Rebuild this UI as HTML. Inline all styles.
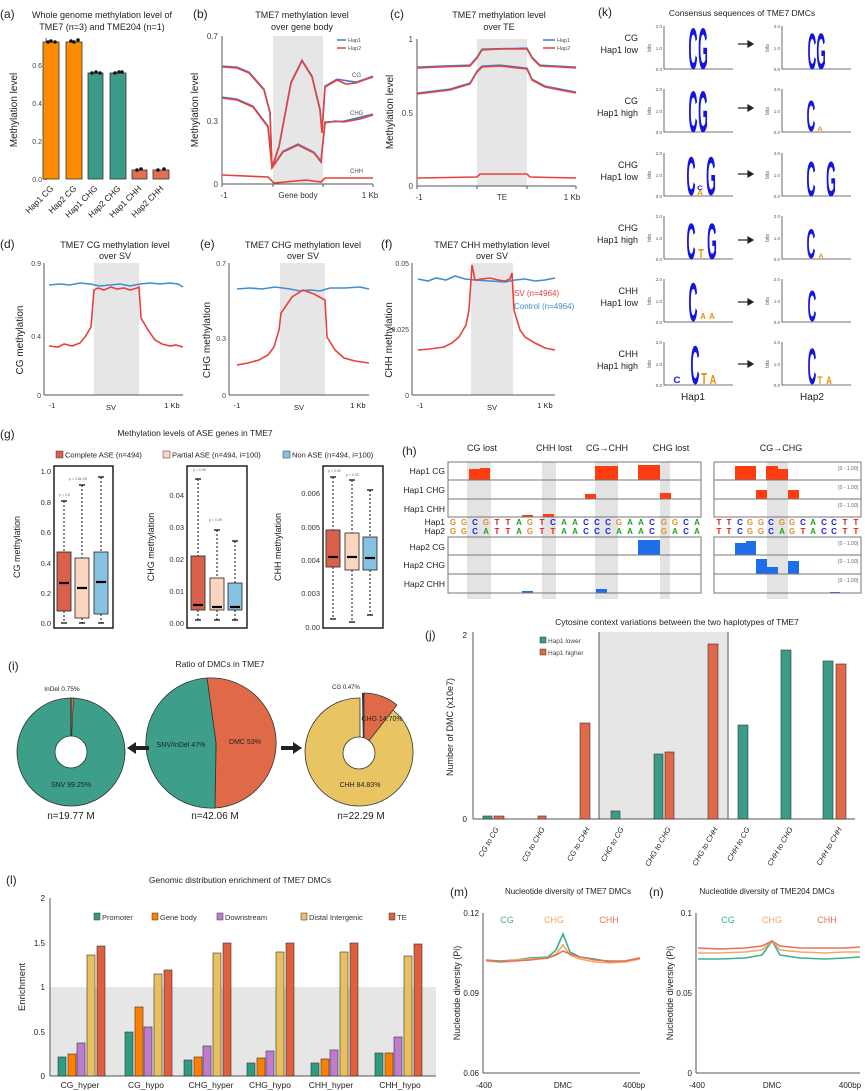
<!DOCTYPE html>
<html><head><meta charset="utf-8"><style>
html,body{margin:0;padding:0;background:#fff}
svg{display:block;font-family:"Liberation Sans",sans-serif}
</style></head><body>
<svg width="865" height="1091" viewBox="0 0 865 1091" xmlns="http://www.w3.org/2000/svg">
<g fill="#222">
<!-- ===== (a) ===== -->
<text x="0" y="18" font-size="12">(a)</text>
<text x="102" y="18" font-size="9" text-anchor="middle">Whole genome methylation level of</text>
<text x="102" y="30" font-size="9" text-anchor="middle">TME7 (n=3) and TME204 (n=1)</text>
<line x1="46" y1="38" x2="46" y2="180" stroke="#555" stroke-width="1"/>
<g font-size="7" text-anchor="end" fill="#444"><text x="42" y="182">0.0</text><text x="42" y="144">0.2</text><text x="42" y="106">0.4</text><text x="42" y="68">0.6</text></g>
<g stroke="#555"><line x1="43" y1="179" x2="46" y2="179"/><line x1="43" y1="141" x2="46" y2="141"/><line x1="43" y1="103" x2="46" y2="103"/><line x1="43" y1="65" x2="46" y2="65"/></g>
<text transform="translate(17,110) rotate(-90)" font-size="10" text-anchor="middle">Methylation level</text>
<g stroke="#333" stroke-width="0.8">
<rect x="43" y="42" width="16" height="137" fill="#FF8C00"/>
<rect x="66" y="42" width="16" height="137" fill="#FF8C00"/>
<rect x="88" y="73" width="15" height="106" fill="#3A9C88"/>
<rect x="110" y="73" width="16" height="106" fill="#3A9C88"/>
<rect x="132" y="170" width="15" height="9" fill="#E07050"/>
<rect x="153" y="170" width="16" height="9" fill="#E07050"/>
</g>
<g fill="#111"><circle cx="48" cy="42" r="1.8"/><circle cx="51" cy="41" r="1.8"/><circle cx="55" cy="42" r="1.8"/><circle cx="71" cy="41" r="1.8"/><circle cx="74" cy="42" r="1.8"/><circle cx="78" cy="40" r="1.8"/><circle cx="92" cy="73" r="1.8"/><circle cx="96" cy="72" r="1.8"/><circle cx="100" cy="73" r="1.8"/><circle cx="115" cy="73" r="1.8"/><circle cx="119" cy="72" r="1.8"/><circle cx="122" cy="72" r="1.8"/><circle cx="137" cy="170" r="1.8"/><circle cx="141" cy="169" r="1.8"/><circle cx="158" cy="170" r="1.8"/><circle cx="164" cy="169" r="1.8"/></g>
<g font-size="8.5" text-anchor="end">
<text transform="translate(54,189) rotate(-45)">Hap1 CG</text>
<text transform="translate(77,189) rotate(-45)">Hap2 CG</text>
<text transform="translate(98,189) rotate(-45)">Hap1 CHG</text>
<text transform="translate(121,189) rotate(-45)">Hap2 CHG</text>
<text transform="translate(142,189) rotate(-45)">Hap1 CHH</text>
<text transform="translate(164,189) rotate(-45)">Hap2 CHH</text>
</g>

<!-- ===== (b) ===== -->
<text x="193" y="18" font-size="12">(b)</text>
<text x="302" y="18" font-size="9" text-anchor="middle">TME7 methylation level</text>
<text x="302" y="30" font-size="9" text-anchor="middle">over gene body</text>
<rect x="273" y="36" width="50" height="148" fill="#E6E6E6"/>
<line x1="222" y1="36" x2="222" y2="184" stroke="#555"/><line x1="222" y1="184" x2="373" y2="184" stroke="#555"/>
<g stroke="#555"><line x1="273" y1="184" x2="273" y2="187"/><line x1="323" y1="184" x2="323" y2="187"/><line x1="373" y1="184" x2="373" y2="187"/><line x1="222" y1="184" x2="222" y2="187"/></g>
<g font-size="8" text-anchor="end" fill="#444"><text x="218" y="39">0.7</text><text x="218" y="124">0.3</text><text x="218" y="187">0</text></g>
<g font-size="8" text-anchor="middle" fill="#333"><text x="224" y="198">-1</text><text x="298" y="198">Gene body</text><text x="370" y="198">1 Kb</text></g>
<text transform="translate(198,110) rotate(-90)" font-size="10" text-anchor="middle">Methylation level</text>
<g fill="none" stroke="#3C7FC8" stroke-width="1.6" transform="translate(0,-0.8)">
<polyline points="222,67 237,68 249,73 264,90 270,113 272,168 279,147 291,83 302,61 312,77 320,110 322,133 325,87 337,80 356,83 373,77"/>
<polyline points="222,98 237,100 253,107 268,127 272,168 283,152 298,145 314,153 321,162 325,123 344,122 373,115"/>
</g>
<g fill="none" stroke="#E8413C" stroke-width="1.6">
<polyline points="222,67 237,68 249,73 264,90 270,113 272,168 279,147 291,83 302,61 312,77 320,110 322,133 325,87 337,80 346,84 356,83 364,80 373,77"/>
<polyline points="222,98 237,100 253,107 268,127 272,168 283,152 298,145 314,153 321,162 325,123 335,121 344,122 360,119 373,115"/>
<polyline points="222,175 268,177 274,183 306,180 321,182 325,178 373,178"/>
</g>
<g font-size="6" fill="#555"><text x="352" y="77">CG</text><text x="350" y="115">CHG</text><text x="350" y="173">CHH</text></g>
<line x1="337" y1="40" x2="346" y2="40" stroke="#3C7FC8" stroke-width="1.5"/><line x1="337" y1="48" x2="346" y2="48" stroke="#E8413C" stroke-width="1.5"/>
<g font-size="5.5" fill="#555"><text x="348" y="42">Hap1</text><text x="348" y="50">Hap2</text></g>

<!-- ===== (c) ===== -->
<text x="390" y="18" font-size="12">(c)</text>
<text x="499" y="18" font-size="9" text-anchor="middle">TME7 methylation level</text>
<text x="499" y="30" font-size="9" text-anchor="middle">over TE</text>
<rect x="477" y="39" width="50" height="147" fill="#E6E6E6"/>
<line x1="417" y1="39" x2="417" y2="186" stroke="#555"/><line x1="417" y1="186" x2="576" y2="186" stroke="#555"/>
<g stroke="#555"><line x1="477" y1="186" x2="477" y2="189"/><line x1="527" y1="186" x2="527" y2="189"/><line x1="576" y1="186" x2="576" y2="189"/><line x1="417" y1="186" x2="417" y2="189"/></g>
<g font-size="8" text-anchor="end" fill="#444"><text x="413" y="42">1</text><text x="413" y="116">0.5</text><text x="413" y="189">0</text></g>
<g font-size="8" text-anchor="middle" fill="#333"><text x="419" y="200">-1</text><text x="502" y="200">TE</text><text x="572" y="200">1 Kb</text></g>
<text transform="translate(393,112) rotate(-90)" font-size="10" text-anchor="middle">Methylation level</text>
<g fill="none" stroke="#3C7FC8" stroke-width="1.6" transform="translate(0,-0.8)">
<polyline points="417,68 440,67 470,66 477,58 482,50 527,49 532,58 540,66 576,68"/>
<polyline points="417,94 450,90 470,84 477,72 482,67 500,66 527,69 532,80 545,87 576,93"/>
</g>
<g fill="none" stroke="#E8413C" stroke-width="1.6">
<polyline points="417,68 440,67 470,66 477,58 482,50 500,49 527,49 532,58 540,66 560,67 576,68"/>
<polyline points="417,94 450,90 470,84 477,72 482,67 500,66 527,69 532,80 545,87 560,90 576,93"/>
<polyline points="417,178 477,177 480,174 527,174 530,177 576,178"/>
</g>
<line x1="543" y1="40" x2="555" y2="40" stroke="#3C7FC8" stroke-width="1.5"/><line x1="543" y1="48" x2="555" y2="48" stroke="#E8413C" stroke-width="1.5"/>
<g font-size="5.5" fill="#555"><text x="557" y="42">Hap1</text><text x="557" y="50">Hap2</text></g>

<!-- ===== (d) ===== -->
<text x="0" y="248" font-size="12">(d)</text>
<text x="115" y="248" font-size="9" text-anchor="middle">TME7 CG methylation level</text>
<text x="115" y="259" font-size="9" text-anchor="middle">over SV</text>
<rect x="94" y="263" width="45" height="132" fill="#E6E6E6"/>
<line x1="44" y1="263" x2="44" y2="395" stroke="#555"/><line x1="44" y1="395" x2="183" y2="395" stroke="#555"/>
<g font-size="7" text-anchor="end" fill="#444"><text x="41" y="266">0.9</text><text x="41" y="339">0.4</text><text x="41" y="398">0</text></g>
<g font-size="7.5" text-anchor="middle"><text x="52" y="408">-1</text><text x="111" y="410">SV</text><text x="172" y="408">1 Kb</text></g>
<text transform="translate(23,340) rotate(-90)" font-size="10" text-anchor="middle">CG methylation</text>
<polyline fill="none" stroke="#3C8FD0" stroke-width="1.6" points="49,285 60,284 70,285 80,283 90,284 100,286 110,285 120,284 130,286 140,284 150,283 160,284 170,283 178,284 183,287"/>
<polyline fill="none" stroke="#E8413C" stroke-width="1.6" points="49,346 58,347 64,344 72,346 80,343 85,337 91,327 94,290 98,288 104,290 111,287 117,289 124,288 130,290 137,288 139,287 141,318 148,330 155,340 162,344 170,346 176,345 183,347"/>

<!-- ===== (e) ===== -->
<text x="200" y="248" font-size="12">(e)</text>
<text x="303" y="248" font-size="9" text-anchor="middle">TME7 CHG methylation level</text>
<text x="303" y="259" font-size="9" text-anchor="middle">over SV</text>
<rect x="280" y="263" width="45" height="132" fill="#E6E6E6"/>
<line x1="229" y1="263" x2="229" y2="395" stroke="#555"/><line x1="229" y1="395" x2="369" y2="395" stroke="#555"/>
<g font-size="7" text-anchor="end" fill="#444"><text x="226" y="266">0.7</text><text x="226" y="341">0.3</text><text x="226" y="398">0</text></g>
<g font-size="7.5" text-anchor="middle"><text x="237" y="408">-1</text><text x="299" y="410">SV</text><text x="358" y="408">1 Kb</text></g>
<text transform="translate(210,340) rotate(-90)" font-size="10" text-anchor="middle">CHG methylation</text>
<polyline fill="none" stroke="#3C8FD0" stroke-width="1.6" points="237,289 250,288 262,289 275,287 290,289 300,291 310,290 320,291 330,288 345,288 360,287 369,289"/>
<polyline fill="none" stroke="#E8413C" stroke-width="1.6" points="237,365 248,363 259,360 268,355 274,347 279,330 281,313 292,297 303,290 314,294 325,300 327,337 335,350 344,358 355,361 369,363"/>

<!-- ===== (f) ===== -->
<text x="381" y="248" font-size="12">(f)</text>
<text x="492" y="248" font-size="9" text-anchor="middle">TME7 CHH methylation level</text>
<text x="492" y="259" font-size="9" text-anchor="middle">over SV</text>
<rect x="471" y="263" width="42" height="132" fill="#E6E6E6"/>
<line x1="412" y1="263" x2="412" y2="395" stroke="#555"/><line x1="412" y1="395" x2="555" y2="395" stroke="#555"/>
<g font-size="7" text-anchor="end" fill="#444"><text x="409" y="266">0.05</text><text x="409" y="332">0.025</text><text x="409" y="398">0</text></g>
<g font-size="7.5" text-anchor="middle"><text x="420" y="408">-1</text><text x="492" y="410">SV</text><text x="545" y="408">1 Kb</text></g>
<text transform="translate(392,340) rotate(-90)" font-size="10" text-anchor="middle">CHH methylation</text>
<polyline fill="none" stroke="#3C8FD0" stroke-width="1.6" points="418,279 428,281 436,278 446,280 455,276 465,279 475,280 490,281 505,282 515,280 525,279 535,281 545,280 555,278"/>
<polyline fill="none" stroke="#E8413C" stroke-width="1.6" points="418,350 430,349 444,347 452,343 459,337 466,325 469,310 472,265 475,280 482,279 490,278 498,280 505,281 510,279 512,273 514,310 520,330 525,337 535,343 545,348 555,350"/>
<text x="514" y="296" font-size="8" fill="#E8413C">SV (n=4964)</text>
<text x="514" y="309" font-size="8" fill="#3C8FD0">Control (n=4964)</text>

<!-- ===== (g) ===== -->
<text x="0" y="438" font-size="12">(g)</text>
<text x="195" y="436" font-size="8.5" text-anchor="middle">Methylation levels of ASE genes in TME7</text>
<rect x="56" y="451" width="7" height="7" fill="#D9614B" stroke="#333" stroke-width="0.5"/>
<text x="65" y="457.5" font-size="7.5">Complete ASE (n=494)</text>
<rect x="163" y="451" width="7" height="7" fill="#FAD5BF" stroke="#333" stroke-width="0.5"/>
<text x="172" y="457.5" font-size="7.5">Partial ASE (n=494, i=100)</text>
<rect x="283" y="451" width="7" height="7" fill="#86C3E0" stroke="#333" stroke-width="0.5"/>
<text x="292" y="457.5" font-size="7.5">Non ASE (n=494, i=100)</text>

<g fill="none" stroke="#111" stroke-width="1.4"><rect x="54" y="466" width="59" height="162"/><rect x="187" y="466" width="60" height="162"/><rect x="323" y="466" width="60" height="162"/></g>
<g font-size="7.5" text-anchor="end" fill="#333">
<text x="51" y="474">1.0</text><text x="51" y="505">0.8</text><text x="51" y="535">0.6</text><text x="51" y="566">0.4</text><text x="51" y="596">0.2</text><text x="51" y="626">0.0</text>
<text x="184" y="498">0.04</text><text x="184" y="530">0.03</text><text x="184" y="562">0.02</text><text x="184" y="594">0.01</text><text x="184" y="626">0.00</text>
<text x="320" y="496">0.006</text><text x="320" y="530">0.005</text><text x="320" y="563">0.004</text><text x="320" y="596">0.003</text><text x="320" y="630">0.00</text>
</g>
<text transform="translate(20,547) rotate(-90)" font-size="9" text-anchor="middle">CG methylation</text>
<text transform="translate(154,547) rotate(-90)" font-size="9" text-anchor="middle">CHG methylation</text>
<text transform="translate(281,547) rotate(-90)" font-size="9" text-anchor="middle">CHH methylation</text>
<g stroke="#111" stroke-width="1" stroke-dasharray="2,2" fill="none">
<line x1="64" y1="501" x2="64" y2="552"/><line x1="64" y1="611" x2="64" y2="623"/>
<line x1="82" y1="485" x2="82" y2="558"/><line x1="82" y1="618" x2="82" y2="623"/>
<line x1="101" y1="477" x2="101" y2="552"/><line x1="101" y1="614" x2="101" y2="623"/>
<line x1="198" y1="479" x2="198" y2="556"/><line x1="198" y1="610" x2="198" y2="620"/>
<line x1="217" y1="530" x2="217" y2="578"/><line x1="217" y1="610" x2="217" y2="620"/>
<line x1="235" y1="541" x2="235" y2="583"/><line x1="235" y1="610" x2="235" y2="620"/>
<line x1="333" y1="477" x2="333" y2="530"/><line x1="333" y1="567" x2="333" y2="619"/>
<line x1="352" y1="480" x2="352" y2="533"/><line x1="352" y1="570" x2="352" y2="622"/>
<line x1="370" y1="490" x2="370" y2="537"/><line x1="370" y1="570" x2="370" y2="615"/>
</g>
<g stroke="#111" stroke-width="1.3">
<line x1="61" y1="501" x2="67" y2="501"/><line x1="61" y1="623" x2="67" y2="623"/>
<line x1="79" y1="485" x2="85" y2="485"/><line x1="79" y1="623" x2="85" y2="623"/>
<line x1="98" y1="477" x2="104" y2="477"/><line x1="98" y1="623" x2="104" y2="623"/>
<line x1="195" y1="479" x2="201" y2="479"/><line x1="195" y1="620" x2="201" y2="620"/>
<line x1="214" y1="530" x2="220" y2="530"/><line x1="214" y1="620" x2="220" y2="620"/>
<line x1="232" y1="541" x2="238" y2="541"/><line x1="232" y1="620" x2="238" y2="620"/>
<line x1="330" y1="477" x2="336" y2="477"/><line x1="330" y1="619" x2="336" y2="619"/>
<line x1="349" y1="480" x2="355" y2="480"/><line x1="349" y1="622" x2="355" y2="622"/>
<line x1="367" y1="490" x2="373" y2="490"/><line x1="367" y1="615" x2="373" y2="615"/>
</g>
<g stroke="#222" stroke-width="0.8">
<rect x="57" y="552" width="14" height="59" fill="#D9614B"/>
<rect x="75" y="558" width="14" height="60" fill="#FAD5BF"/>
<rect x="94" y="552" width="14" height="62" fill="#86C3E0"/>
<rect x="191" y="556" width="14" height="54" fill="#D9614B"/>
<rect x="210" y="578" width="14" height="32" fill="#FAD5BF"/>
<rect x="228" y="583" width="14" height="27" fill="#86C3E0"/>
<rect x="326" y="530" width="14" height="37" fill="#D9614B"/>
<rect x="345" y="533" width="14" height="37" fill="#FAD5BF"/>
<rect x="363" y="537" width="14" height="33" fill="#86C3E0"/>
</g>
<g stroke="#000" stroke-width="2.2">
<line x1="59" y1="583" x2="69" y2="583"/><line x1="77" y1="588" x2="87" y2="588"/><line x1="96" y1="582" x2="106" y2="582"/>
<line x1="193" y1="605" x2="203" y2="605"/><line x1="212" y1="607" x2="222" y2="607"/><line x1="230" y1="607" x2="240" y2="607"/>
<line x1="328" y1="557" x2="338" y2="557"/><line x1="347" y1="557" x2="357" y2="557"/><line x1="365" y1="558" x2="375" y2="558"/>
</g>
<g font-size="3.5" fill="#666"><text x="59" y="496">p = 0.8</text><text x="69" y="480">p = 3.8e-08</text><text x="193" y="471">p = 0.05</text><text x="209" y="521">p = 0.09</text><text x="328" y="472">p = 0.09</text><text x="346" y="476">p = 0.02</text></g>

<!-- ===== (h) ===== -->
<text x="402" y="455" font-size="12">(h)</text>
<g fill="#E3E3E3"><rect x="467" y="462" width="24" height="137"/><rect x="542" y="462" width="14" height="137"/><rect x="595" y="462" width="23" height="137"/><rect x="660" y="462" width="10" height="137"/><rect x="767" y="462" width="21" height="137"/></g>
<g font-size="9" text-anchor="middle"><text x="482" y="451">CG lost</text><text x="554" y="451">CHH lost</text><text x="607" y="451">CG→CHH</text><text x="671" y="451">CHG lost</text><text x="781" y="451">CG→CHG</text></g>
<g font-size="8.5" text-anchor="end">
<text x="445" y="474">Hap1 CG</text><text x="445" y="493">Hap1 CHG</text><text x="445" y="512">Hap1 CHH</text>
<text x="445" y="525">Hap1</text><text x="445" y="534">Hap2</text>
<text x="445" y="550">Hap2 CG</text><text x="445" y="568">Hap2 CHG</text><text x="445" y="587">Hap2 CHH</text>
</g>
<g fill="#FF3B10">
<rect x="469" y="469" width="11" height="11"/><rect x="480" y="468" width="10" height="12"/><rect x="595" y="466" width="23" height="14"/><rect x="638" y="465" width="22" height="15"/>
<rect x="585" y="494" width="11" height="5"/><rect x="660" y="493" width="11" height="6"/>
<rect x="522" y="515" width="11" height="2"/><rect x="543" y="514" width="11" height="3"/>
<rect x="735" y="466" width="21" height="14"/><rect x="766" y="466" width="12" height="14"/><rect x="778" y="469" width="10" height="11"/>
<rect x="756" y="490" width="11" height="9"/><rect x="788" y="490" width="11" height="9"/>
</g>
<g fill="#1E6EEB">
<rect x="638" y="540" width="22" height="15"/><rect x="522" y="591" width="11" height="2"/><rect x="596" y="589" width="11" height="4"/>
<rect x="735" y="543" width="11" height="12"/><rect x="746" y="541" width="10" height="14"/>
<rect x="756" y="559" width="11" height="15"/><rect x="767" y="567" width="11" height="7"/><rect x="788" y="561" width="11" height="13"/>
<rect x="830" y="592" width="10" height="1"/>
</g>
<g fill="none" stroke="#777" stroke-width="1">
<rect x="448" y="462" width="253" height="55"/><line x1="448" y1="480" x2="701" y2="480"/><line x1="448" y1="499" x2="701" y2="499"/>
<rect x="448" y="537" width="253" height="56"/><line x1="448" y1="555" x2="701" y2="555"/><line x1="448" y1="574" x2="701" y2="574"/>
<rect x="714" y="462" width="147" height="55"/><line x1="714" y1="480" x2="861" y2="480"/><line x1="714" y1="499" x2="861" y2="499"/>
<rect x="714" y="537" width="147" height="56"/><line x1="714" y1="555" x2="861" y2="555"/><line x1="714" y1="574" x2="861" y2="574"/>
</g>
<g font-size="5" fill="#666" text-anchor="end"><text x="858" y="470">[0 - 1.00]</text><text x="858" y="489">[0 - 1.00]</text><text x="858" y="507">[0 - 1.00]</text><text x="858" y="545">[0 - 1.00]</text><text x="858" y="563">[0 - 1.00]</text><text x="858" y="582">[0 - 1.00]</text></g>
<g font-size="8" font-weight="bold" text-anchor="middle">
<text y="525"><tspan x="453" fill="#E09030">G</tspan><tspan x="464" fill="#E09030">G</tspan><tspan x="475" fill="#2020E0">C</tspan><tspan x="486" fill="#E09030">G</tspan><tspan x="497" fill="#E02020">T</tspan><tspan x="508" fill="#E02020">T</tspan><tspan x="519" fill="#20A020">A</tspan><tspan x="530" fill="#E09030">G</tspan><tspan x="542" fill="#E02020">T</tspan><tspan x="553" fill="#2020E0">C</tspan><tspan x="564" fill="#20A020">A</tspan><tspan x="575" fill="#20A020">A</tspan><tspan x="586" fill="#2020E0">C</tspan><tspan x="597" fill="#2020E0">C</tspan><tspan x="608" fill="#2020E0">C</tspan><tspan x="619" fill="#E09030">G</tspan><tspan x="630" fill="#20A020">A</tspan><tspan x="641" fill="#20A020">A</tspan><tspan x="652" fill="#2020E0">C</tspan><tspan x="664" fill="#E09030">G</tspan><tspan x="675" fill="#E09030">G</tspan><tspan x="686" fill="#2020E0">C</tspan><tspan x="697" fill="#20A020">A</tspan></text>
<text y="534"><tspan x="453" fill="#E09030">G</tspan><tspan x="464" fill="#E09030">G</tspan><tspan x="475" fill="#2020E0">C</tspan><tspan x="486" fill="#20A020">A</tspan><tspan x="497" fill="#E02020">T</tspan><tspan x="508" fill="#E02020">T</tspan><tspan x="519" fill="#20A020">A</tspan><tspan x="530" fill="#E09030">G</tspan><tspan x="542" fill="#E02020">T</tspan><tspan x="553" fill="#E02020">T</tspan><tspan x="564" fill="#20A020">A</tspan><tspan x="575" fill="#20A020">A</tspan><tspan x="586" fill="#2020E0">C</tspan><tspan x="597" fill="#2020E0">C</tspan><tspan x="608" fill="#2020E0">C</tspan><tspan x="619" fill="#20A020">A</tspan><tspan x="630" fill="#20A020">A</tspan><tspan x="641" fill="#20A020">A</tspan><tspan x="652" fill="#2020E0">C</tspan><tspan x="664" fill="#E09030">G</tspan><tspan x="675" fill="#20A020">A</tspan><tspan x="686" fill="#2020E0">C</tspan><tspan x="697" fill="#20A020">A</tspan></text>
<text y="525"><tspan x="719" fill="#E02020">T</tspan><tspan x="729" fill="#E02020">T</tspan><tspan x="740" fill="#2020E0">C</tspan><tspan x="750" fill="#E09030">G</tspan><tspan x="761" fill="#E09030">G</tspan><tspan x="771" fill="#2020E0">C</tspan><tspan x="782" fill="#E09030">G</tspan><tspan x="792" fill="#E09030">G</tspan><tspan x="803" fill="#2020E0">C</tspan><tspan x="813" fill="#20A020">A</tspan><tspan x="824" fill="#2020E0">C</tspan><tspan x="834" fill="#2020E0">C</tspan><tspan x="845" fill="#E02020">T</tspan><tspan x="856" fill="#E02020">T</tspan></text>
<text y="534"><tspan x="719" fill="#E02020">T</tspan><tspan x="729" fill="#E02020">T</tspan><tspan x="740" fill="#2020E0">C</tspan><tspan x="750" fill="#E09030">G</tspan><tspan x="761" fill="#E09030">G</tspan><tspan x="771" fill="#2020E0">C</tspan><tspan x="782" fill="#20A020">A</tspan><tspan x="792" fill="#E09030">G</tspan><tspan x="803" fill="#E02020">T</tspan><tspan x="813" fill="#20A020">A</tspan><tspan x="824" fill="#2020E0">C</tspan><tspan x="834" fill="#2020E0">C</tspan><tspan x="845" fill="#E02020">T</tspan><tspan x="856" fill="#E02020">T</tspan></text>
</g>

<!-- ===== (k) ===== -->
<text x="598" y="16" font-size="12">(k)</text>
<text x="742" y="16" font-size="8.5" text-anchor="middle">Consensus sequences of TME7 DMCs</text>
<g font-size="9" text-anchor="end">
<text x="638" y="41">CG</text><text x="638" y="53">Hap1 low</text>
<text x="638" y="104">CG</text><text x="638" y="116">Hap1 high</text>
<text x="638" y="168">CHG</text><text x="638" y="180">Hap1 low</text>
<text x="638" y="231">CHG</text><text x="638" y="243">Hap1 high</text>
<text x="638" y="294">CHH</text><text x="638" y="306">Hap1 low</text>
<text x="638" y="357">CHH</text><text x="638" y="369">Hap1 high</text>
</g>
<g stroke="#444" stroke-width="0.8" fill="none">
<path d="M664,26V69H733M782,26V69H851"/><path d="M664,89V132H733M782,89V132H851"/><path d="M664,153V196H733M782,153V196H851"/>
<path d="M664,216V259H733M782,216V259H851"/><path d="M664,279V322H733M782,279V322H851"/><path d="M664,342V385H733M782,342V385H851"/>
</g>
<g font-size="4.5" fill="#555" text-anchor="end">
<text x="662" y="28">2.0</text><text x="662" y="50">1.0</text><text x="662" y="71">0.0</text><text x="780" y="28">2.0</text><text x="780" y="50">1.0</text><text x="780" y="71">0.0</text>
<text x="662" y="91">2.0</text><text x="662" y="113">1.0</text><text x="662" y="134">0.0</text><text x="780" y="91">2.0</text><text x="780" y="113">1.0</text><text x="780" y="134">0.0</text>
<text x="662" y="155">2.0</text><text x="662" y="177">1.0</text><text x="662" y="198">0.0</text><text x="780" y="155">2.0</text><text x="780" y="177">1.0</text><text x="780" y="198">0.0</text>
<text x="662" y="218">2.0</text><text x="662" y="240">1.0</text><text x="662" y="261">0.0</text><text x="780" y="218">2.0</text><text x="780" y="240">1.0</text><text x="780" y="261">0.0</text>
<text x="662" y="281">2.0</text><text x="662" y="303">1.0</text><text x="662" y="324">0.0</text><text x="780" y="281">2.0</text><text x="780" y="303">1.0</text><text x="780" y="324">0.0</text>
<text x="662" y="344">2.0</text><text x="662" y="366">1.0</text><text x="662" y="387">0.0</text><text x="780" y="344">2.0</text><text x="780" y="366">1.0</text><text x="780" y="387">0.0</text>
</g>
<g font-size="5" fill="#555" text-anchor="middle">
<text transform="translate(651,48) rotate(-90)">bits</text><text transform="translate(769,48) rotate(-90)">bits</text>
<text transform="translate(651,111) rotate(-90)">bits</text><text transform="translate(769,111) rotate(-90)">bits</text>
<text transform="translate(651,175) rotate(-90)">bits</text><text transform="translate(769,175) rotate(-90)">bits</text>
<text transform="translate(651,238) rotate(-90)">bits</text><text transform="translate(769,238) rotate(-90)">bits</text>
<text transform="translate(651,301) rotate(-90)">bits</text><text transform="translate(769,301) rotate(-90)">bits</text>
<text transform="translate(651,364) rotate(-90)">bits</text><text transform="translate(769,364) rotate(-90)">bits</text>
</g>
<g font-size="10" font-weight="bold" text-anchor="middle" fill="#1515E0">
<text transform="translate(693,69) scale(1.25,5.8)">C</text><text transform="translate(703,69) scale(1.25,5.8)">G</text>
<text transform="translate(812,69) scale(1.2,5.1)">C</text><text transform="translate(821,69) scale(1.2,5.1)">G</text>
<text transform="translate(693,132) scale(1.25,5.8)">C</text><text transform="translate(703,132) scale(1.25,5.8)">G</text>
<text transform="translate(811,131) scale(1.2,4.4)">C</text>
<text transform="translate(691,195) scale(1.25,5.5)">C</text><text transform="translate(711,195) scale(1.25,5.5)">G</text>
<text transform="translate(811,196) scale(1.25,4.9)">C</text><text transform="translate(831,196) scale(1.25,4.9)">G</text>
<text transform="translate(691,259) scale(1.25,5.1)">C</text><text transform="translate(712,259) scale(1.25,5.1)">G</text>
<text transform="translate(811,258) scale(1.2,4.2)">C</text>
<text transform="translate(693,321) scale(1.25,5.5)">C</text>
<text transform="translate(812,321) scale(1.2,4.4)">C</text>
<text transform="translate(695,384) scale(1.25,5.5)">C</text>
<text transform="translate(812,384) scale(1.2,5.1)">C</text>
<text transform="translate(677,383) scale(1,0.9)">C</text>
<text transform="translate(700,190) scale(0.8,0.6)">C</text>
</g>
<g font-size="10" font-weight="bold" text-anchor="middle" fill="#F08C00">
<text transform="translate(820,131) scale(0.7,0.6)">A</text>
<text transform="translate(700,195) scale(0.8,0.7)">A</text>
<text transform="translate(701,258) scale(0.9,1.3)">T</text>
<text transform="translate(821,258) scale(0.7,0.6)">A</text>
<text transform="translate(703,319) scale(0.8,0.8)">A</text><text transform="translate(712,319) scale(0.8,0.8)">A</text>
<text transform="translate(704,384) scale(1,1.6)">T</text><text transform="translate(713,384) scale(0.9,1.3)">A</text>
<text transform="translate(820,384) scale(0.8,1.1)">T</text><text transform="translate(829,384) scale(0.8,1.1)">A</text>
</g>
<g stroke="#222" stroke-width="1.2" fill="#222">
<line x1="738" y1="44" x2="749" y2="44"/><path d="M748,41L753,44L748,47Z"/>
<line x1="738" y1="108" x2="749" y2="108"/><path d="M748,105L753,108L748,111Z"/>
<line x1="738" y1="174" x2="749" y2="174"/><path d="M748,171L753,174L748,177Z"/>
<line x1="738" y1="240" x2="749" y2="240"/><path d="M748,237L753,240L748,243Z"/>
<line x1="738" y1="302" x2="749" y2="302"/><path d="M748,299L753,302L748,305Z"/>
<line x1="738" y1="364" x2="749" y2="364"/><path d="M748,361L753,364L748,367Z"/>
</g>
<text x="693" y="400" font-size="10" text-anchor="middle">Hap1</text>
<text x="812" y="400" font-size="10" text-anchor="middle">Hap2</text>

<!-- ===== (i) ===== -->
<text x="8" y="670" font-size="12">(i)</text>
<text x="220" y="667" font-size="8.5" text-anchor="middle">Ratio of DMCs in TME7</text>
<circle cx="71" cy="752" r="54" fill="#3D9F8A" stroke="#333" stroke-width="0.8"/>
<path d="M71,752 L71,698 A54,54 0 0 1 73.5,698.1 Z" fill="#E06A48" stroke="#333" stroke-width="0.6"/>
<line x1="71" y1="752" x2="71" y2="698" stroke="#222" stroke-width="1"/>
<circle cx="71" cy="752" r="16" fill="#fff" stroke="#333" stroke-width="0.8"/>
<text x="62" y="691" font-size="6.5" text-anchor="middle">InDel 0.75%</text>
<text x="71" y="787" font-size="7" text-anchor="middle">SNV 99.25%</text>
<path d="M216,743 L207,678 A65,65 0 0 1 215,808 Z" fill="#E06A48" stroke="#333" stroke-width="0.8"/>
<path d="M216,743 L215,808 A65,65 0 0 1 207,678 Z" fill="#3D9F8A" stroke="#333" stroke-width="0.8"/>
<text x="181" y="747" font-size="7" text-anchor="middle">SNV/InDel 47%</text>
<text x="245" y="744" font-size="7" text-anchor="middle">DMC 53%</text>
<path d="M360,752 L360,698 A54,54 0 1 0 393,710 Z" fill="#E8C463" stroke="#333" stroke-width="0.8"/>
<path d="M364,747 L364,693 A54,54 0 0 1 397,705 Z" fill="#E06A48" stroke="#333" stroke-width="0.8"/>
<path d="M363,747 L362,693 L364,693 L364,747Z" fill="#333"/>
<circle cx="359" cy="753" r="16" fill="#fff" stroke="#333" stroke-width="0.8"/>
<text x="346" y="689" font-size="6" text-anchor="middle">CG 0.47%</text>
<text x="382" y="721" font-size="7" text-anchor="middle">CHG 14.70%</text>
<text x="360" y="787" font-size="7" text-anchor="middle">CHH 84.83%</text>
<g fill="#222"><path d="M127,748 L136,742 L136,746 L149,746 L149,750 L136,750 L136,754Z"/><path d="M302,748 L293,742 L293,746 L281,746 L281,750 L293,750 L293,754Z"/></g>
<g font-size="10" text-anchor="middle"><text x="71" y="819">n=19.77 M</text><text x="215" y="819">n=42.06 M</text><text x="361" y="819">n=22.29 M</text></g>

<!-- ===== (j) ===== -->
<text x="425" y="639" font-size="12">(j)</text>
<text x="677" y="625" font-size="8.5" text-anchor="middle">Cytosine context variations between the two haplotypes of TME7</text>
<rect x="599" y="632" width="129" height="187" fill="#E6E6E6"/>
<line x1="599" y1="632" x2="599" y2="819" stroke="#555"/><line x1="728" y1="632" x2="728" y2="819" stroke="#555"/>
<line x1="473" y1="632" x2="473" y2="819" stroke="#555"/><line x1="473" y1="819" x2="855" y2="819" stroke="#555"/>
<text x="467" y="638" font-size="8" text-anchor="end">2</text><text x="467" y="822" font-size="8" text-anchor="end">0</text>
<text transform="translate(453,727) rotate(-90)" font-size="9" text-anchor="middle">Number of DMC (x10e7)</text>
<rect x="540" y="637" width="6" height="6" fill="#3A9C88" stroke="#333" stroke-width="0.5"/><text x="548" y="643" font-size="6.5" fill="#444">Hap1 lower</text>
<rect x="540" y="649" width="6" height="6" fill="#E0694A" stroke="#333" stroke-width="0.5"/><text x="548" y="655" font-size="6.5" fill="#444">Hap1 higher</text>
<g stroke="#333" stroke-width="0.6">
<rect x="483" y="816" width="9" height="3" fill="#3A9C88"/><rect x="494" y="816" width="10" height="3" fill="#E0694A"/>
<rect x="538" y="816" width="8" height="3" fill="#E0694A"/>
<rect x="580" y="723" width="10" height="96" fill="#E0694A"/>
<rect x="611" y="811" width="9" height="8" fill="#3A9C88"/>
<rect x="654" y="754" width="9" height="65" fill="#3A9C88"/><rect x="665" y="752" width="9" height="67" fill="#E0694A"/>
<rect x="708" y="644" width="10" height="175" fill="#E0694A"/>
<rect x="738" y="725" width="10" height="94" fill="#3A9C88"/>
<rect x="781" y="650" width="10" height="169" fill="#3A9C88"/>
<rect x="823" y="661" width="10" height="158" fill="#3A9C88"/><rect x="836" y="664" width="10" height="155" fill="#E0694A"/>
</g>
<g font-size="7.5" text-anchor="end" font-style="italic">
<text transform="translate(499,829) rotate(-60)">CG to CG</text>
<text transform="translate(545,829) rotate(-60)">CG to CHG</text>
<text transform="translate(590,829) rotate(-60)">CG to CHH</text>
<text transform="translate(624,829) rotate(-60)">CHG to CG</text>
<text transform="translate(671,829) rotate(-60)">CHG to CHG</text>
<text transform="translate(718,829) rotate(-60)">CHG to CHH</text>
<text transform="translate(750,829) rotate(-60)">CHH to CG</text>
<text transform="translate(793,829) rotate(-60)">CHH to CHG</text>
<text transform="translate(842,829) rotate(-60)">CHH to CHH</text>
</g>

<!-- ===== (l) ===== -->
<text x="6" y="884" font-size="12">(l)</text>
<text x="240" y="883" font-size="8.5" text-anchor="middle">Genomic distribution enrichment of TME7 DMCs</text>
<rect x="50" y="987" width="386" height="89" fill="#E6E6E6"/>
<line x1="50" y1="898" x2="50" y2="1076" stroke="#555"/><line x1="50" y1="1076" x2="436" y2="1076" stroke="#555"/>
<g font-size="8" text-anchor="end"><text x="45" y="901">2</text><text x="45" y="946">1.5</text><text x="45" y="990">1</text><text x="45" y="1035">0.5</text><text x="45" y="1079">0</text></g>
<text transform="translate(25,987) rotate(-90)" font-size="9.5" text-anchor="middle">Enrichment</text>
<g font-size="7.5" fill="#333">
<rect x="94" y="913" width="6" height="7" fill="#2E9C82" stroke="#333" stroke-width="0.5"/><text x="102" y="920">Promoter</text>
<rect x="152" y="913" width="6" height="7" fill="#FF7F00" stroke="#333" stroke-width="0.5"/><text x="160" y="920">Gene body</text>
<rect x="217" y="913" width="6" height="7" fill="#C07CCC" stroke="#333" stroke-width="0.5"/><text x="225" y="920">Downstream</text>
<rect x="301" y="913" width="6" height="7" fill="#E8C060" stroke="#333" stroke-width="0.5"/><text x="309" y="920">Distal Intergenic</text>
<rect x="389" y="913" width="6" height="7" fill="#E0603E" stroke="#333" stroke-width="0.5"/><text x="397" y="920">TE</text>
</g>
<g stroke="#333" stroke-width="0.6">
<rect x="58" y="1057" width="8" height="19" fill="#2E9C82"/><rect x="68" y="1054" width="8" height="22" fill="#FF7F00"/><rect x="77" y="1043" width="8" height="33" fill="#C07CCC"/><rect x="87" y="955" width="8" height="121" fill="#E8C060"/><rect x="97" y="946" width="8" height="130" fill="#E0603E"/>
<rect x="125" y="1032" width="8" height="44" fill="#2E9C82"/><rect x="135" y="1007" width="8" height="69" fill="#FF7F00"/><rect x="144" y="1027" width="8" height="49" fill="#C07CCC"/><rect x="154" y="974" width="8" height="102" fill="#E8C060"/><rect x="164" y="970" width="8" height="106" fill="#E0603E"/>
<rect x="184" y="1060" width="8" height="16" fill="#2E9C82"/><rect x="194" y="1057" width="8" height="19" fill="#FF7F00"/><rect x="203" y="1046" width="8" height="30" fill="#C07CCC"/><rect x="213" y="953" width="8" height="123" fill="#E8C060"/><rect x="223" y="943" width="8" height="133" fill="#E0603E"/>
<rect x="247" y="1063" width="8" height="13" fill="#2E9C82"/><rect x="257" y="1058" width="8" height="18" fill="#FF7F00"/><rect x="266" y="1051" width="8" height="25" fill="#C07CCC"/><rect x="276" y="952" width="8" height="124" fill="#E8C060"/><rect x="286" y="943" width="8" height="133" fill="#E0603E"/>
<rect x="311" y="1063" width="8" height="13" fill="#2E9C82"/><rect x="321" y="1059" width="8" height="17" fill="#FF7F00"/><rect x="330" y="1050" width="8" height="26" fill="#C07CCC"/><rect x="340" y="952" width="8" height="124" fill="#E8C060"/><rect x="350" y="943" width="8" height="133" fill="#E0603E"/>
<rect x="375" y="1053" width="8" height="23" fill="#2E9C82"/><rect x="385" y="1053" width="8" height="23" fill="#FF7F00"/><rect x="394" y="1037" width="8" height="39" fill="#C07CCC"/><rect x="404" y="956" width="8" height="120" fill="#E8C060"/><rect x="414" y="944" width="8" height="132" fill="#E0603E"/>
</g>
<g font-size="8.5" text-anchor="middle"><text x="80" y="1088">CG_hyper</text><text x="146" y="1088">CG_hypo</text><text x="211" y="1088">CHG_hyper</text><text x="270" y="1088">CHG_hypo</text><text x="331" y="1088">CHH_hyper</text><text x="400" y="1088">CHH_hypo</text></g>

<!-- ===== (m) ===== -->
<text x="450" y="896" font-size="12">(m)</text>
<text x="568" y="894" font-size="8" text-anchor="middle">Nucleotide diversity of TME7 DMCs</text>
<line x1="483" y1="913" x2="483" y2="1073" stroke="#555"/><line x1="483" y1="1073" x2="640" y2="1073" stroke="#555"/>
<g font-size="8" text-anchor="end"><text x="479" y="916">0.12</text><text x="479" y="996">0.09</text><text x="479" y="1076">0.06</text></g>
<g font-size="8" text-anchor="middle"><text x="484" y="1088">-400</text><text x="563" y="1088">DMC</text><text x="634" y="1088">400bp</text></g>
<text transform="translate(460,993) rotate(-90)" font-size="9" text-anchor="middle">Nucleotide diversity (Pi)</text>
<g font-size="9" text-anchor="middle"><text x="507" y="923" fill="#3CB08F">CG</text><text x="554" y="923" fill="#F5A760">CHG</text><text x="609" y="923" fill="#E8705A">CHH</text></g>
<g fill="none" stroke-width="1.6">
<polyline stroke="#3CB08F" points="486,960 500,961 515,960 530,958 548,957 556,950 563,934 570,952 580,957 595,959 610,962 625,961 640,958"/>
<polyline stroke="#F5A760" points="486,961 500,962 515,960 530,959 548,958 556,954 563,945 570,955 580,959 595,962 610,963 625,962 640,959"/>
<polyline stroke="#E8705A" points="486,960 500,962 515,961 530,960 548,958 556,955 563,951 570,954 580,957 595,960 610,961 625,961 640,958"/>
</g>

<!-- ===== (n) ===== -->
<text x="649" y="896" font-size="12">(n)</text>
<text x="767" y="894" font-size="8" text-anchor="middle">Nucleotide diversity of TME204 DMCs</text>
<line x1="696" y1="913" x2="696" y2="1073" stroke="#555"/><line x1="696" y1="1073" x2="860" y2="1073" stroke="#555"/>
<g font-size="8" text-anchor="end"><text x="692" y="916">0.1</text><text x="692" y="996">0.05</text><text x="692" y="1076">0</text></g>
<g font-size="8" text-anchor="middle"><text x="697" y="1088">-400</text><text x="772" y="1088">DMC</text><text x="850" y="1088">400bp</text></g>
<text transform="translate(673,993) rotate(-90)" font-size="9" text-anchor="middle">Nucleotide diversity (Pi)</text>
<g font-size="9" text-anchor="middle"><text x="728" y="923" fill="#3CB08F">CG</text><text x="772" y="923" fill="#F5A760">CHG</text><text x="827" y="923" fill="#E8705A">CHH</text></g>
<g fill="none" stroke-width="1.6">
<polyline stroke="#3CB08F" points="698,959 720,959 745,958 762,955 772,941 780,955 800,958 825,959 845,958 860,957"/>
<polyline stroke="#F5A760" points="698,953 720,953 745,952 762,950 772,941 780,950 800,952 825,953 845,952 860,952"/>
<polyline stroke="#E8705A" points="698,948 720,949 745,948 762,946 772,941 780,946 800,948 825,948 845,948 860,947"/>
</g>
</g>
</svg>
</body></html>
